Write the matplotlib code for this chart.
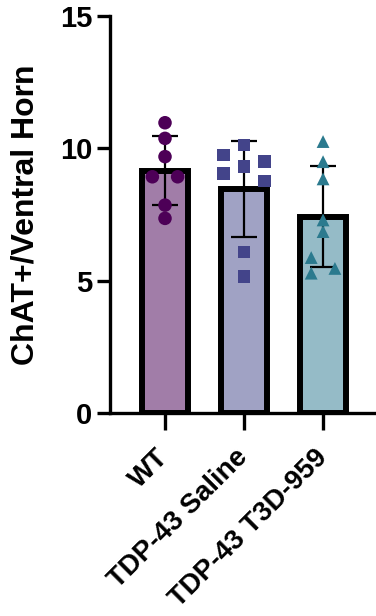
import numpy as np
import matplotlib
matplotlib.use("Agg")
import matplotlib.pyplot as plt

plt.rcParams['font.family'] = ['Liberation Sans', 'DejaVu Sans']
plt.rcParams['font.weight'] = 'bold'

categories = ["WT", "TDP-43 Saline", "TDP-43 T3D-959"]
wt_values = [10.97, 10.38, 9.69, 8.93, 8.93, 7.86, 7.36]
saline_values = [10.13, 9.75, 9.50, 9.31, 9.06, 8.77, 6.10, 5.16]
t3d_values = [10.26, 9.50, 8.85, 7.30, 6.86, 5.88, 5.29, 5.47]
# horizontal spread (in marker-widths) of each dot in the scatter
wt_spread = [0, 0, 0, -1, 1, 0, 0]
saline_spread = [0, -1, 1, 0, -1, 1, 0, 0]
t3d_spread = [0, 0, 0, 0, 0, -1, -1, 1]
y_ticks = [0, 5, 10, 15]
y_label = "ChAT+/Ventral Horn"

groups = [wt_values, saline_values, t3d_values]
spreads = [wt_spread, saline_spread, t3d_spread]
fills = ['#A17DA8', '#A0A2C4', '#95BBC7']
dot_colors = ['#4D0057', '#43448A', '#2B7A8E']
markers = ['o', 's', '^']
spread_scale = [0.16, 0.26, 0.15]
msizes = [95, 80, 85]

fig = plt.figure(figsize=(3.76, 6.16), dpi=100)
ax = fig.add_axes([110/376, 1-413.3/616, 1-110/376, (413.3-16)/616])

x = np.arange(len(categories))
means = [np.mean(g) for g in groups]
sds = [np.std(g, ddof=1) for g in groups]

ax.bar(x, means, width=0.58, color=fills, edgecolor='black', linewidth=4.3, zorder=2)
ax.errorbar(x, means, yerr=sds, fmt='none', ecolor='black', elinewidth=1.6,
            capsize=9.5, capthick=1.6, zorder=3)
for i, (g, s) in enumerate(zip(groups, spreads)):
    xs = x[i] + np.array(s) * spread_scale[i]
    ax.scatter(xs, g, marker=markers[i], s=msizes[i], color=dot_colors[i],
               edgecolors='none', zorder=4)

ax.set_xlim(-0.696, 2.67)
ax.set_ylim(0, 15)
ax.set_yticks(y_ticks)
ax.set_yticklabels([str(t) for t in y_ticks], fontsize=21, fontweight='bold')
ax.set_xticks(x)
ax.set_xticklabels(categories, rotation=45, ha='right', va='center',
                   rotation_mode='anchor', fontsize=20, fontweight='bold')
ax.set_ylabel(y_label, fontsize=23, fontweight='bold', labelpad=14)

for sp in ['top', 'right']:
    ax.spines[sp].set_visible(False)
for sp in ['left', 'bottom']:
    ax.spines[sp].set_linewidth(2.4)
ax.tick_params(axis='y', length=9.6, width=2.4, pad=3)
ax.tick_params(axis='x', length=12, width=2.4, pad=17)

fig.savefig("out.png", dpi=100)
